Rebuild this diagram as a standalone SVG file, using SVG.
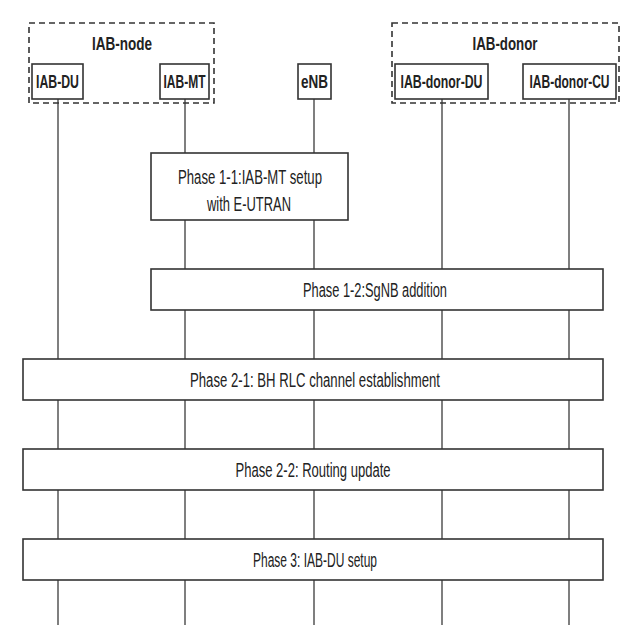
<svg xmlns="http://www.w3.org/2000/svg" width="640" height="640" viewBox="0 0 640 640">
<style>
.grp{fill:none;stroke:#333;stroke-width:1.6;stroke-dasharray:6 4}
.ent{fill:#fff;stroke:#333;stroke-width:1.6}
.ph{fill:#fff;stroke:#333;stroke-width:1.6}
.life{stroke:#555;stroke-width:1.5;fill:none}
.hl{font-family:"Liberation Sans",Arial,sans-serif;font-weight:bold;font-size:19px;fill:#222;text-anchor:middle}
.pt{font-family:"Liberation Sans",Arial,sans-serif;font-size:20px;fill:#222;text-anchor:middle}
</style>
<rect width="640" height="640" fill="#fff"/>
<g id="connectors">
<line class="life" x1="58" y1="99" x2="58" y2="625"/>
<line class="life" x1="185" y1="99" x2="185" y2="625"/>
<line class="life" x1="314" y1="99" x2="314" y2="625"/>
<line class="life" x1="442" y1="99" x2="442" y2="625"/>
<line class="life" x1="569" y1="99" x2="569" y2="625"/>
</g>
<g id="iab-node">
<rect class="grp" x="29" y="23" width="185" height="80"/>
<text class="hl" x="122" y="50" textLength="60" lengthAdjust="spacingAndGlyphs">IAB-node</text>
</g>
<g id="iab-donor">
<rect class="grp" x="392" y="23" width="227" height="80"/>
<text class="hl" x="505" y="50" textLength="65" lengthAdjust="spacingAndGlyphs">IAB-donor</text>
</g>
<g id="iab-du">
<rect class="ent" x="32" y="64" width="51" height="35"/>
<text class="hl" x="57.5" y="88" textLength="43" lengthAdjust="spacingAndGlyphs">IAB-DU</text>
</g>
<g id="iab-mt">
<rect class="ent" x="160" y="64" width="49" height="35"/>
<text class="hl" x="184.5" y="88" textLength="42" lengthAdjust="spacingAndGlyphs">IAB-MT</text>
</g>
<g id="enb">
<rect class="ent" x="298" y="64" width="33" height="35"/>
<text class="hl" x="314.5" y="88" textLength="27" lengthAdjust="spacingAndGlyphs">eNB</text>
</g>
<g id="iab-donor-du">
<rect class="ent" x="395" y="64" width="93" height="35"/>
<text class="hl" x="441.5" y="88" textLength="82" lengthAdjust="spacingAndGlyphs">IAB-donor-DU</text>
</g>
<g id="iab-donor-cu">
<rect class="ent" x="523" y="64" width="93" height="35"/>
<text class="hl" x="569.5" y="88" textLength="80" lengthAdjust="spacingAndGlyphs">IAB-donor-CU</text>
</g>
<g id="phase-1-1">
<rect class="ph" x="151" y="153" width="197" height="67"/>
<text class="pt" x="250" y="184" textLength="144" lengthAdjust="spacingAndGlyphs">Phase 1-1:IAB-MT setup</text>
<text class="pt" x="249" y="211" textLength="84" lengthAdjust="spacingAndGlyphs">with E-UTRAN</text>
</g>
<g id="phase-1-2">
<rect class="ph" x="151" y="269" width="452" height="41"/>
<text class="pt" x="375" y="297" textLength="144" lengthAdjust="spacingAndGlyphs">Phase 1-2:SgNB addition</text>
</g>
<g id="phase-2-1">
<rect class="ph" x="23" y="359" width="580" height="41"/>
<text class="pt" x="315" y="387" textLength="250" lengthAdjust="spacingAndGlyphs">Phase 2-1: BH RLC channel establishment</text>
</g>
<g id="phase-2-2">
<rect class="ph" x="23" y="449" width="580" height="41"/>
<text class="pt" x="313" y="477" textLength="155" lengthAdjust="spacingAndGlyphs">Phase 2-2: Routing update</text>
</g>
<g id="phase-3">
<rect class="ph" x="23" y="539" width="580" height="41"/>
<text class="pt" x="315" y="567" textLength="124" lengthAdjust="spacingAndGlyphs">Phase 3: IAB-DU setup</text>
</g>
</svg>
